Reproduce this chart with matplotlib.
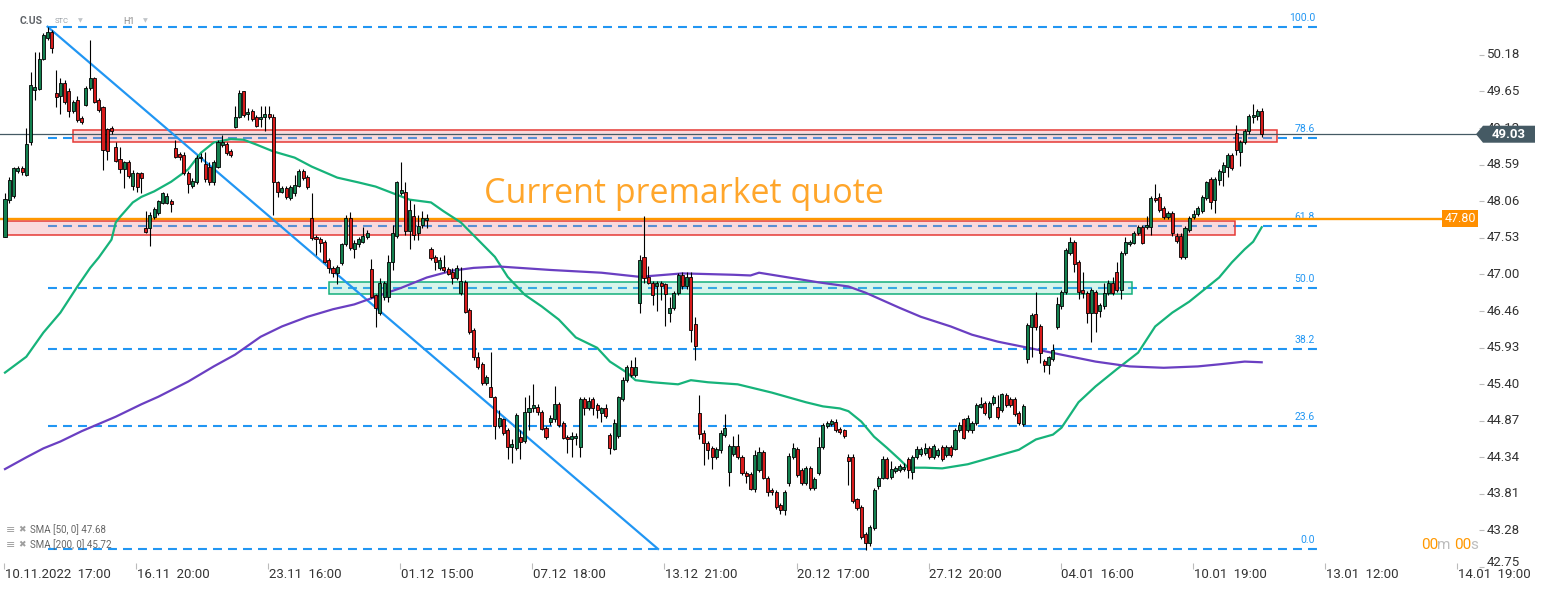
import numpy as np
import matplotlib
matplotlib.use("Agg")
import matplotlib.pyplot as plt
from matplotlib.patches import Rectangle, Polygon

# hourly candles C.US, 10.11.2022 17:00 .. 12.01.2023
opens = [47.54, 48.08, 48.14, 48.50, 48.54, 48.44, 48.92, 49.67, 49.69, 50.12,
         50.43, 50.52, 49.63, 49.59, 49.78, 49.66, 49.37, 49.53, 49.27, 49.46,
         49.70, 49.85, 49.53, 49.43, 49.11, 49.12, 48.85, 48.67, 48.53, 48.62,
         48.28, 48.46, 48.46, 47.67, 47.67, 47.83, 47.89, 48.03, 48.03, 48.06,
         48.83, 48.74, 48.73, 48.47, 48.28, 48.34, 48.69, 48.60, 48.56, 48.33,
         48.56, 48.88, 48.89, 48.79, 49.14, 49.28, 49.65, 49.33, 49.37, 49.28,
         49.25, 49.28, 49.33, 49.28, 48.33, 48.19, 48.25, 48.11, 48.17, 48.28,
         48.50, 48.41, 47.82, 47.54, 47.51, 47.47, 47.21, 47.09, 47.02, 47.16,
         47.44, 47.82, 47.37, 47.43, 47.47, 47.54, 47.08, 46.69, 46.44, 46.67,
         46.67, 47.18, 47.56, 48.18, 48.19, 47.63, 47.85, 47.59, 47.71, 47.79,
         47.37, 47.25, 47.09, 47.11, 47.08, 47.03, 46.95, 46.73, 46.89, 46.48,
         46.19, 45.80, 45.70, 45.42, 45.36, 45.21, 44.80, 44.89, 44.73, 44.49,
         44.48, 44.64, 44.58, 45.00, 45.06, 45.07, 45.00, 44.77, 44.86, 44.89,
         45.12, 44.84, 44.64, 44.61, 44.62, 44.49, 45.18, 45.06, 45.18, 45.10,
         44.99, 45.06, 44.67, 44.46, 44.65, 45.19, 45.47, 45.65, 45.54, 46.58,
         47.25, 46.96, 46.87, 46.82, 46.87, 46.85, 46.44, 46.51, 46.73, 46.99,
         46.82, 46.96, 46.27, 44.99, 44.70, 44.55, 44.48, 44.35, 44.44, 44.67,
         44.13, 44.39, 44.51, 44.35, 44.12, 44.10, 43.88, 44.16, 44.42, 44.04,
         43.87, 43.83, 43.65, 43.57, 43.97, 44.35, 44.46, 44.16, 43.97, 44.19,
         43.90, 44.12, 44.49, 44.80, 44.83, 44.86, 44.75, 44.73, 44.35, 44.34,
         43.73, 43.62, 43.23, 43.09, 43.32, 43.92, 44.04, 44.31, 44.06, 44.14,
         44.16, 44.17, 44.32, 44.13, 44.35, 44.39, 44.41, 44.48, 44.35, 44.38,
         44.49, 44.38, 44.49, 44.46, 44.74, 44.89, 44.74, 44.73, 44.84, 45.07,
         45.13, 44.93, 45.13, 45.07, 45.03, 45.25, 45.19, 45.18, 44.99, 44.83,
         45.77, 46.23, 46.42, 46.25, 45.74, 45.68, 45.77, 46.23, 46.53, 46.74,
         47.31, 47.47, 47.18, 46.77, 46.73, 46.44, 46.74, 46.47, 46.53, 46.73,
         46.87, 47.03, 46.77, 47.30, 47.44, 47.45, 47.60, 47.69, 47.69, 47.69,
         48.11, 48.12, 47.96, 47.83, 47.89, 47.56, 47.56, 47.25, 47.64, 47.83,
         47.87, 47.92, 48.11, 48.38, 48.08, 48.37, 48.48, 48.56, 48.73, 49.05,
         48.77, 48.92, 49.07, 49.28, 49.30, 49.37]
highs = [48.18, 48.41, 48.56, 48.57, 48.57, 49.12, 49.94, 50.23, 50.23, 50.50,
         50.59, 50.54, 49.96, 49.85, 49.82, 49.70, 49.53, 49.59, 49.30, 49.73,
         50.40, 49.86, 49.56, 49.44, 49.12, 49.15, 48.92, 48.85, 48.64, 48.66,
         48.51, 48.48, 48.48, 47.92, 47.90, 47.98, 48.08, 48.19, 48.17, 48.09,
         48.95, 48.77, 48.77, 48.50, 48.40, 48.73, 48.76, 48.77, 48.63, 48.66,
         48.95, 49.02, 48.92, 48.82, 49.44, 49.67, 49.66, 49.41, 49.40, 49.31,
         49.44, 49.44, 49.44, 49.33, 48.35, 48.28, 48.28, 48.30, 48.44, 48.53,
         48.53, 48.44, 48.18, 47.57, 47.54, 47.50, 47.24, 47.12, 47.13, 47.45,
         47.86, 47.90, 47.50, 47.54, 47.69, 47.64, 47.22, 46.71, 46.95, 46.90,
         47.28, 47.71, 48.35, 48.63, 48.33, 48.08, 48.01, 47.86, 47.92, 47.87,
         47.40, 47.28, 47.25, 47.27, 47.11, 47.09, 47.13, 47.11, 46.92, 46.51,
         46.22, 45.87, 45.73, 45.54, 45.87, 45.23, 45.03, 44.91, 44.77, 44.60,
         44.99, 44.74, 45.22, 45.25, 45.41, 45.12, 45.03, 44.80, 44.96, 45.38,
         45.15, 44.87, 44.67, 44.71, 44.70, 45.21, 45.21, 45.21, 45.21, 45.13,
         45.07, 45.12, 44.70, 44.89, 45.23, 45.50, 45.68, 45.76, 45.79, 47.28,
         47.85, 47.12, 46.90, 46.90, 46.90, 46.87, 46.67, 46.76, 47.02, 47.03,
         47.03, 47.03, 46.37, 45.25, 44.73, 44.58, 44.51, 44.49, 44.73, 44.97,
         44.54, 44.65, 44.68, 44.38, 44.14, 44.13, 44.44, 44.49, 44.45, 44.07,
         43.90, 43.86, 43.68, 43.87, 44.41, 44.55, 44.49, 44.19, 44.22, 44.22,
         44.06, 44.64, 44.84, 44.87, 44.90, 44.89, 44.78, 44.75, 44.39, 44.39,
         43.75, 43.65, 43.26, 43.36, 43.90, 44.07, 44.36, 44.34, 44.29, 44.22,
         44.25, 44.26, 44.35, 44.38, 44.51, 44.49, 44.55, 44.51, 44.54, 44.48,
         44.52, 44.52, 44.52, 44.77, 44.86, 44.91, 44.96, 44.87, 45.13, 45.21,
         45.16, 45.16, 45.25, 45.25, 45.28, 45.28, 45.22, 45.21, 45.02, 45.12,
         46.29, 46.44, 46.74, 46.27, 45.77, 45.81, 45.99, 46.67, 46.77, 47.38,
         47.54, 47.50, 47.21, 47.03, 46.76, 46.80, 46.77, 46.58, 46.87, 46.92,
         46.96, 47.18, 47.34, 47.54, 47.50, 47.63, 47.71, 47.71, 47.85, 48.14,
         48.31, 48.18, 47.99, 47.92, 47.92, 47.59, 47.59, 47.70, 47.85, 47.93,
         47.99, 48.15, 48.35, 48.41, 48.41, 48.53, 48.62, 48.76, 48.76, 49.17,
         48.95, 49.11, 49.33, 49.47, 49.40, 49.41]
lows = [47.54, 48.03, 48.11, 48.47, 48.44, 48.43, 48.88, 49.53, 49.67, 50.11,
        50.40, 50.21, 49.43, 49.33, 49.47, 49.28, 49.34, 49.21, 49.18, 49.44,
        49.67, 49.49, 49.35, 48.51, 48.66, 49.04, 48.63, 48.47, 48.25, 48.40,
        48.22, 48.19, 48.17, 47.60, 47.41, 47.80, 47.86, 48.02, 48.01, 47.90,
        48.69, 48.66, 48.44, 48.18, 48.25, 48.31, 48.63, 48.34, 48.30, 48.30,
        48.54, 48.85, 48.73, 48.70, 49.12, 49.27, 49.28, 49.24, 49.22, 49.14,
        49.14, 49.08, 49.25, 47.86, 48.12, 48.17, 48.09, 48.08, 48.14, 48.27,
        48.37, 48.24, 47.50, 47.28, 47.32, 47.16, 47.02, 46.96, 46.85, 47.13,
        47.41, 47.35, 47.24, 47.40, 47.45, 47.51, 46.66, 46.23, 46.41, 46.63,
        46.60, 47.06, 47.53, 48.15, 47.57, 47.37, 47.50, 47.50, 47.67, 47.67,
        47.21, 47.06, 47.06, 47.03, 46.98, 46.85, 46.92, 46.70, 46.44, 46.13,
        45.76, 45.62, 45.39, 45.39, 45.21, 44.60, 44.77, 44.67, 44.31, 44.26,
        44.45, 44.31, 44.55, 44.74, 45.00, 44.96, 44.74, 44.61, 44.81, 44.86,
        44.78, 44.60, 44.41, 44.34, 44.52, 44.34, 44.96, 45.03, 44.96, 44.91,
        44.86, 44.91, 44.39, 44.44, 44.62, 45.16, 45.44, 45.51, 45.51, 46.44,
        46.87, 46.85, 46.55, 46.47, 46.63, 46.25, 46.31, 46.48, 46.70, 46.79,
        46.79, 46.02, 45.76, 44.60, 44.23, 44.31, 44.17, 44.32, 44.41, 44.64,
        43.92, 44.36, 44.32, 44.09, 43.97, 43.86, 43.84, 44.13, 44.02, 43.78,
        43.80, 43.59, 43.52, 43.51, 43.93, 44.32, 44.06, 43.94, 43.94, 43.87,
        43.87, 44.09, 44.46, 44.77, 44.80, 44.71, 44.68, 44.62, 43.94, 43.68,
        43.58, 43.16, 43.00, 43.06, 43.29, 43.88, 44.02, 44.02, 44.03, 44.12,
        44.13, 44.14, 44.04, 44.02, 44.32, 44.36, 44.38, 44.31, 44.32, 44.35,
        44.28, 44.35, 44.35, 44.44, 44.71, 44.60, 44.71, 44.70, 44.81, 45.05,
        44.96, 44.90, 45.10, 44.90, 45.00, 45.07, 45.07, 44.94, 44.81, 44.80,
        45.71, 45.79, 46.19, 45.71, 45.58, 45.55, 45.74, 46.20, 46.50, 46.71,
        47.28, 47.03, 46.64, 46.66, 46.29, 46.01, 46.16, 46.38, 46.50, 46.70,
        46.70, 46.74, 46.64, 47.27, 47.41, 47.43, 47.57, 47.43, 47.66, 47.57,
        48.05, 47.90, 47.80, 47.80, 47.56, 47.45, 47.22, 47.22, 47.61, 47.80,
        47.85, 47.89, 48.08, 47.95, 47.89, 48.30, 48.28, 48.41, 48.51, 48.73,
        48.57, 48.89, 49.04, 49.19, 49.24, 48.99]
closes = [48.09, 48.37, 48.54, 48.54, 48.48, 48.89, 49.75, 49.72, 50.12, 50.47,
          50.52, 50.28, 49.57, 49.78, 49.50, 49.37, 49.50, 49.24, 49.21, 49.70,
          49.85, 49.50, 49.38, 48.80, 48.79, 49.07, 48.64, 48.53, 48.62, 48.43,
          48.46, 48.27, 48.40, 47.61, 47.86, 47.95, 48.06, 48.17, 48.14, 48.02,
          48.70, 48.70, 48.47, 48.31, 48.35, 48.69, 48.70, 48.38, 48.33, 48.63,
          48.91, 48.92, 48.76, 48.73, 49.28, 49.63, 49.31, 49.35, 49.25, 49.15,
          49.28, 49.33, 49.28, 48.33, 48.19, 48.25, 48.12, 48.27, 48.30, 48.50,
          48.40, 48.27, 47.53, 47.51, 47.45, 47.18, 47.09, 47.02, 47.11, 47.43,
          47.82, 47.38, 47.45, 47.51, 47.56, 47.60, 46.67, 46.51, 46.87, 46.87,
          47.18, 47.60, 48.33, 48.22, 47.63, 47.93, 47.57, 47.70, 47.82, 47.82,
          47.24, 47.18, 47.21, 47.06, 47.00, 46.95, 47.09, 46.90, 46.45, 46.16,
          45.79, 45.65, 45.42, 45.51, 45.22, 44.80, 44.91, 44.70, 44.49, 44.54,
          44.96, 44.57, 45.00, 45.06, 45.10, 45.00, 44.75, 44.64, 44.91, 45.12,
          44.81, 44.62, 44.60, 44.65, 44.65, 45.18, 45.05, 45.16, 45.06, 45.03,
          45.05, 44.94, 44.48, 44.84, 45.21, 45.47, 45.65, 45.54, 45.65, 47.21,
          46.95, 46.87, 46.70, 46.87, 46.83, 46.71, 46.51, 46.73, 46.99, 46.82,
          46.96, 46.19, 45.96, 44.68, 44.55, 44.45, 44.35, 44.46, 44.70, 44.77,
          44.51, 44.51, 44.35, 44.12, 44.07, 43.88, 44.38, 44.42, 44.04, 43.84,
          43.83, 43.62, 43.57, 43.84, 44.36, 44.48, 44.09, 43.97, 44.19, 43.90,
          44.03, 44.49, 44.81, 44.84, 44.87, 44.74, 44.71, 44.65, 44.29, 43.71,
          43.61, 43.19, 43.10, 43.33, 43.87, 44.04, 44.32, 44.04, 44.17, 44.19,
          44.22, 44.20, 44.16, 44.35, 44.46, 44.46, 44.48, 44.34, 44.51, 44.45,
          44.31, 44.49, 44.38, 44.74, 44.81, 44.62, 44.91, 44.84, 45.10, 45.12,
          44.99, 45.13, 45.22, 44.93, 45.26, 45.10, 45.10, 44.97, 44.84, 45.09,
          46.26, 46.41, 46.23, 45.86, 45.68, 45.79, 45.90, 46.57, 46.74, 47.35,
          47.47, 47.15, 46.74, 46.73, 46.44, 46.77, 46.44, 46.55, 46.73, 46.87,
          46.73, 46.77, 47.31, 47.47, 47.47, 47.60, 47.69, 47.45, 47.71, 48.11,
          48.08, 47.93, 47.83, 47.89, 47.59, 47.48, 47.25, 47.67, 47.82, 47.87,
          47.96, 48.12, 48.33, 48.05, 48.38, 48.50, 48.59, 48.73, 48.54, 48.80,
          48.92, 49.08, 49.30, 49.31, 49.37, 49.03]

# moving averages (candle index, value)
sma50_idx = [0, 5, 9, 13, 17, 20, 22, 25, 26, 27, 30, 32, 35, 39, 43, 46, 49, 53, 56, 59,
             63, 68, 72, 78, 83, 87, 95, 100, 103, 107, 111, 115, 118, 122, 126, 130, 134,
             139, 142, 146, 148, 152, 158, 161, 165, 172, 176, 180, 184, 188, 192, 196, 198,
             201, 204, 207, 210, 212, 216, 220, 226, 230, 234, 238, 242, 246, 248, 252, 256,
             261, 266, 270, 274, 278, 282, 285, 288, 291, 293, 295]
sma50_val = [45.57, 45.80, 46.15, 46.44, 46.82, 47.09, 47.24, 47.50, 47.75, 47.83, 48.04,
             48.12, 48.20, 48.34, 48.52, 48.76, 48.91, 48.96, 48.95, 48.88, 48.78, 48.69,
             48.56, 48.40, 48.33, 48.27, 48.08, 48.04, 47.91, 47.75, 47.50, 47.25, 46.96,
             46.70, 46.53, 46.34, 46.08, 45.93, 45.73, 45.57, 45.46, 45.43, 45.40, 45.46,
             45.43, 45.40, 45.34, 45.28, 45.21, 45.14, 45.08, 45.05, 45.01, 44.86, 44.64,
             44.48, 44.31, 44.19, 44.19, 44.18, 44.24, 44.31, 44.38, 44.45, 44.60, 44.67,
             44.77, 45.14, 45.37, 45.62, 45.86, 46.24, 46.44, 46.60, 46.80, 46.95, 47.17,
             47.36, 47.47, 47.68]
sma200_idx = [0, 5, 9, 13, 18, 26, 32, 36, 43, 49, 54, 60, 65, 71, 77, 82, 87, 93, 99, 105,
              110, 116, 128, 140, 149, 159, 171, 175, 177, 183, 191, 198, 202, 210, 215, 222,
              227, 233, 241, 248, 256, 264, 272, 280, 285, 291, 295]
sma200_val = [44.17, 44.34, 44.47, 44.57, 44.72, 44.93, 45.11, 45.22, 45.44, 45.66, 45.83,
              46.09, 46.24, 46.38, 46.49, 46.56, 46.67, 46.80, 46.95, 47.05, 47.09, 47.11,
              47.06, 47.02, 46.96, 47.01, 46.99, 46.98, 47.02, 46.96, 46.88, 46.82, 46.73,
              46.51, 46.38, 46.24, 46.12, 46.02, 45.92, 45.83, 45.73, 45.66, 45.64, 45.66,
              45.69, 45.73, 45.72]

price_ticks = [50.18, 49.65, 49.12, 48.59, 48.06, 47.53, 47.00, 46.46, 45.93, 45.40,
               44.87, 44.34, 43.81, 43.28, 42.75]
time_idx = [0, 31, 62, 93, 124, 155, 186, 217, 248, 279, 310, 341]
time_labels = ["10.11.2022  17:00", "16.11  20:00", "23.11  16:00", "01.12  15:00",
               "07.12  18:00", "13.12  21:00", "20.12  17:00", "27.12  20:00",
               "04.01  16:00", "10.01  19:00", "13.01  12:00", "14.01  19:00"]

fib_hi, fib_lo = 50.59, 43.01
fib_levels = [100.0, 78.6, 61.8, 50.0, 38.2, 23.6, 0.0]
fib_from, fib_to = 10, 308.5
trend_x = [10, 153.3]
trend_y = [50.59, 43.01]

red_zones = [(16, 298.6, 48.91, 49.09), (-0.2, 288.7, 47.57, 47.77)]
green_zones = [(76.1, 264.6, 46.71, 46.89)]

last_price = 49.03
premarket = 47.80
sma50_last, sma200_last = 47.68, 45.72

W, H = 1546, 590
fig = plt.figure(figsize=(W / 100, H / 100), dpi=100)
ax = fig.add_axes([0, 0, 1, 1])
ax.axis("off")
# pixel scale: 4.26 px per candle, 68.9 px per dollar
ax.set_xlim(-5 / 4.26, (W - 5) / 4.26)
ax.set_ylim(50.978 - H / 68.9, 50.978)

blue = "#2196f3"
font = "Roboto"

# fibonacci levels
for lv in fib_levels:
    p = fib_lo + (fib_hi - fib_lo) * lv / 100
    ax.plot([fib_from, fib_to], [p, p], color=blue, lw=1.5, ls=(0, (4.3, 2.9)), zorder=2)
    ax.text(fib_to - 1, p + 0.06, f"{lv:.1f}", color=blue, fontsize=7.5, family=font,
            ha="right", va="bottom", zorder=2)

# zones
for x0, x1, y0, y1 in red_zones:
    ax.add_patch(Rectangle((x0, y0), x1 - x0, y1 - y0, facecolor=(0.93, 0.49, 0.53, 0.28),
                           edgecolor="#e53935", lw=1.1, zorder=3))
for x0, x1, y0, y1 in green_zones:
    ax.add_patch(Rectangle((x0, y0), x1 - x0, y1 - y0, facecolor=(0.45, 0.86, 0.72, 0.28),
                           edgecolor="#14b07c", lw=1.1, zorder=3))

# price lines
ax.axhline(last_price, xmin=0, xmax=1478 / W, color="#455a64", lw=0.9, zorder=3)
ax.axhline(premarket, xmin=0, xmax=1442 / W, color="#ff9800", lw=1.7, zorder=4)

# trend line and moving averages
ax.plot(trend_x, trend_y, color=blue, lw=1.6, zorder=5)
ax.plot(sma50_idx, sma50_val, color="#16b37a", lw=1.6, zorder=5)
ax.plot(sma200_idx, sma200_val, color="#6a3fc2", lw=1.6, zorder=5)

# candles
o = np.array(opens); c = np.array(closes)
hi = np.array(highs); lo = np.array(lows)
idx = np.arange(len(o))
cols = np.where(c >= o, "#13804f", "#d81b1b")
ax.vlines(idx, lo, hi, color="black", lw=0.8, zorder=6)
ax.bar(idx, np.abs(c - o), bottom=np.minimum(o, c), width=0.72, color=cols,
       edgecolor="black", linewidth=0.6, zorder=7)

# price axis
yt = ax.get_yaxis_transform()
for p in price_ticks:
    yp = p if p > 43 else p + 0.07
    ax.hlines(p, 1479 / W, 1484 / W, color="#bbbbbb", lw=0.8, transform=yt)
    ax.text(1487 / W, yp, f"{p:.2f}", fontsize=9.5, family=font, color="#333333",
            va="center", ha="left", transform=yt, zorder=1)

# time axis
xt = ax.get_xaxis_transform()
for i, lab in zip(time_idx, time_labels):
    ax.vlines(i - 0.2, 1 - 569 / H, 1 - 563 / H, color="#bbbbbb", lw=0.8, transform=xt)
    ax.text(i, 1 - 575 / H, lab, fontsize=9.5, family=font, color="#333333",
            va="center", ha="left", transform=xt)

# last price tag
yl = 1 - (50.978 - last_price) * 68.9 / H
tag = Polygon([(1476 / W, yl), (1483 / W, yl + 8.5 / H), (1535 / W, yl + 8.5 / H),
               (1535 / W, yl - 8.5 / H), (1483 / W, yl - 8.5 / H)], closed=True,
              facecolor="#455a64", edgecolor="none", transform=fig.transFigure, zorder=9)
fig.patches.append(tag)
fig.text(1509 / W, yl, f"{last_price:.2f}", color="white", fontsize=9.5, family=font,
         fontweight="bold", ha="center", va="center", zorder=10)

ypm = 1 - (50.978 - premarket) * 68.9 / H
fig.patches.append(Rectangle((1442 / W, ypm - 8.5 / H), 36 / W, 17 / H, facecolor="#ff8f00",
                             edgecolor="none", transform=fig.transFigure, zorder=9))
fig.text(1460 / W, ypm, f"{premarket:.2f}", color="white", fontsize=9, family=font,
         ha="center", va="center", zorder=10)

# header
fig.text(20 / W, 1 - 21 / H, "C.US", fontsize=7.5, family=font, fontweight="bold",
         color="#5f6368", va="center")
fig.text(55 / W, 1 - 21 / H, "STC", fontsize=5.5, family=font, color="#9aa0a6", va="center")
fig.text(78 / W, 1 - 21 / H, "\u25bc", fontsize=4.5, color="#c0c4c8", va="center")
fig.text(123 / W, 1 - 21 / H, "H1", fontsize=6.5, family=font, color="#888888", va="center")
fig.text(143 / W, 1 - 21 / H, "\u25bc", fontsize=4.5, color="#c0c4c8", va="center")

# annotation
fig.text(484 / W, 1 - 194 / H, "Current premarket quote", fontsize=24.5, family="Open Sans",
         color="#ffa62b", va="center", ha="left")

# indicator legend
for k, (name, val) in enumerate([("SMA [50, 0]", sma50_last), ("SMA [200, 0]", sma200_last)]):
    yy = 1 - (530 + 15 * k) / H
    fig.text(6 / W, yy, "\u2261", fontsize=8, color="#9e9e9e", va="center")
    fig.text(18 / W, yy, "\u2716", fontsize=6.5, color="#9e9e9e", va="center")
    fig.text(30 / W, yy, f"{name} {val:.2f}", fontsize=7, family=font, color="#666666",
             va="center")

# candle timer
ty = 1 - 545 / H
fig.text(1421 / W, ty, "00", fontsize=11, family=font, color="#ff9800", va="center")
fig.text(1437 / W, ty, "m", fontsize=11, family=font, color="#bdbdbd", va="center")
fig.text(1454 / W, ty, "00", fontsize=11, family=font, color="#ff9800", va="center")
fig.text(1470 / W, ty, "s", fontsize=11, family=font, color="#bdbdbd", va="center")

fig.savefig("out.png", dpi=100, facecolor="white")
